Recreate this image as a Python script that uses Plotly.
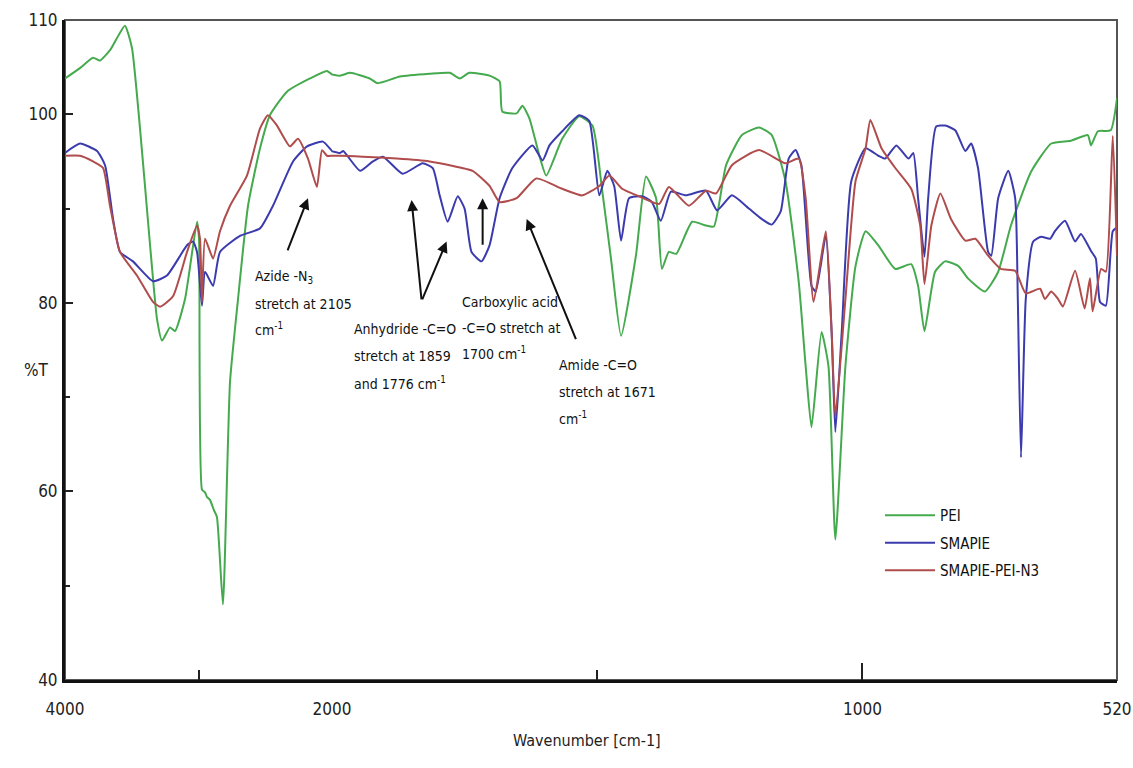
import plotly.graph_objects as go

# ---------------- data ----------------
pei_wn = [4000, 3888, 3790, 3738, 3663, 3610, 3551, 3498, 3311, 3273, 3213, 3176, 3101, 3011, 2996,
          2974, 2951, 2936, 2914, 2884, 2862, 2817, 2764, 2704, 2629, 2539, 2465, 2337, 2165, 2038,
          1985, 1966, 1929, 1914, 1872, 1816, 1778, 1759, 1741, 1703, 1684, 1679, 1652, 1641, 1628,
          1609, 1596, 1566, 1534, 1509, 1491, 1474, 1455, 1427, 1408, 1389, 1378, 1365, 1351, 1321,
          1295, 1280, 1257, 1227, 1195, 1171, 1145, 1120, 1107, 1096, 1077, 1064, 1051, 1032, 1013,
          994, 970, 938, 908, 895, 883, 863, 844, 819, 801, 769, 744, 720, 682, 644, 607, 575, 569,
          556, 532, 520]
pei_t = [103.8, 104.9, 106.0, 105.7, 106.8, 108.1, 109.4, 107.0, 78.3, 76.0, 77.4, 77.0, 80.4, 88.6, 86.8,
         60.2, 59.9, 59.4, 59.1, 58.0, 57.3, 48.0, 71.6, 80.4, 90.3, 96.4, 99.9, 102.4, 103.8, 104.6,
         104.1, 104.4, 103.8, 103.3, 104.0, 104.3, 104.4, 103.8, 104.4, 104.1, 103.5, 100.3, 100.1, 100.9, 99.6,
         95.6, 93.5, 97.4, 99.8, 98.8, 92.1, 84.7, 76.5, 85.0, 93.4, 91.1, 83.6, 85.4, 85.2, 88.6,
         88.2, 88.1, 94.6, 97.8, 98.6, 97.8, 92.9, 82.2, 73.3, 66.8, 76.9, 73.3, 54.9, 73.3, 83.9,
         87.6, 86.1, 83.6, 84.1, 81.8, 77.0, 83.3, 84.4, 83.9, 82.6, 81.2, 83.3, 88.2, 93.9, 96.9, 97.2, 97.8, 96.7,
         98.2, 98.3, 101.7]

smapie_wn = [4000, 3888, 3760, 3700, 3640, 3588, 3491, 3341, 3236, 3086, 3041, 3011, 2974, 2951, 2891,
             2839, 2689, 2539, 2442, 2292, 2187, 2068, 1985, 1979, 1947, 1923, 1904, 1867, 1829, 1810,
             1797, 1782, 1763, 1750, 1737, 1718, 1703, 1684, 1660, 1622, 1603, 1590, 1566, 1534, 1515,
             1496, 1481, 1468, 1455, 1440, 1415, 1397, 1380, 1361, 1333, 1295, 1274, 1246, 1214, 1190,
             1171, 1154, 1139, 1126, 1115, 1096, 1088, 1069, 1058, 1051, 1039, 1021, 994, 970, 957,
             936, 913, 904, 895, 883, 876, 861, 844, 825, 806, 795, 782, 763, 757, 744, 725, 712, 707,
             701, 692, 678, 663, 646, 637, 618, 599, 588, 569, 560, 552, 541, 528, 520]
smapie_t = [95.9, 96.9, 96.1, 94.6, 88.9, 85.4, 84.4, 82.3, 82.9, 86.1, 86.5, 85.4, 79.7, 83.3, 81.8,
            85.4, 87.1, 87.9, 90.3, 95.0, 96.6, 97.1, 95.9, 96.1, 94.0, 95.0, 95.5, 93.7, 94.8, 94.3,
            91.4, 88.6, 91.3, 90.0, 85.4, 84.4, 86.1, 91.1, 94.3, 96.7, 95.1, 96.7, 98.2, 99.9, 99.3,
            91.4, 94.0, 92.4, 86.6, 91.1, 91.3, 90.7, 88.7, 91.8, 91.4, 91.9, 89.8, 91.4, 90.0, 88.9,
            88.3, 89.7, 95.3, 96.2, 94.6, 81.8, 81.2, 87.1, 76.9, 66.3, 76.9, 92.9, 96.4, 95.6, 95.3,
            96.7, 95.3, 95.9, 91.1, 84.9, 91.1, 98.7, 98.8, 98.3, 96.1, 96.9, 94.3, 85.4, 85.0, 91.1, 94.0, 91.1, 80.4,
            63.6, 80.4, 86.5, 87.0, 86.8, 87.6, 88.7, 86.5, 87.3, 85.5, 84.7, 80.1, 79.7, 87.6, 88.0]

n3_wn = [4000, 3888, 3790, 3715, 3663, 3588, 3461, 3341, 3288, 3191, 3086, 3011, 2989, 2974, 2951,
         2891, 2839, 2764, 2637, 2539, 2480, 2412, 2315, 2255, 2180, 2113, 2075, 2038, 1985, 1942,
         1878, 1816, 1778, 1735, 1703, 1684, 1652, 1615, 1566, 1528, 1496, 1477, 1453, 1421, 1383,
         1365, 1327, 1295, 1276, 1246, 1195, 1145, 1120, 1107, 1092, 1069, 1058, 1051, 1032, 1013,
         994, 985, 964, 938, 908, 891, 883, 870, 853, 833, 806, 787, 763, 739, 712, 692, 665, 656,
         644, 631, 622, 599, 581, 571, 566, 550, 541, 528, 520]
n3_t = [95.6, 95.6, 95.0, 94.3, 90.3, 85.4, 82.9, 80.1, 79.6, 80.7, 85.4, 88.2, 86.8, 80.1, 86.8,
        84.7, 87.6, 90.3, 93.5, 98.5, 99.9, 98.8, 96.6, 97.4, 95.3, 92.3, 96.2, 95.6, 95.6, 95.5,
        95.3, 95.0, 94.6, 94.0, 92.4, 90.7, 91.1, 93.2, 92.1, 91.4, 92.4, 93.5, 92.1, 91.3, 90.5,
        92.3, 90.3, 91.9, 91.6, 94.6, 96.2, 94.8, 95.3, 91.1, 80.1, 87.6, 76.9, 68.0, 80.4, 92.9,
        96.4, 99.4, 96.4, 94.3, 92.1, 88.2, 82.0, 88.2, 91.6, 88.9, 86.6, 86.8, 85.0, 83.6, 83.4, 81.0, 81.5, 80.4,
        81.2, 80.4, 79.6, 83.4, 79.4, 82.6, 79.1, 83.6, 83.3, 97.7, 85.0]

series_names = ["PEI", "SMAPIE", "SMAPIE-PEI-N3"]
series_colors = ["#45aa4e", "#3b3bae", "#b04c4c"]

x_major_left = [4000, 2000]
x_minor_left = [3000]
x_major_right = [1000, 520]
x_minor_right = [1500]
y_major = [40, 60, 80, 100, 110]
y_minor = [50, 70, 90]

# ---------------- figure ----------------
W, H = 1133, 768
ML, MR, MT, MB = 65, 16, 20, 88
PW, PH = W - ML - MR, H - MT - MB


def px_x(px):
    return (px - ML) / PW


def px_y(py):
    return (H - MB - py) / PH


SPLIT = px_x(332)

FONT = "Liberation Sans Narrow, Arial Narrow, DejaVu Sans Condensed, Roboto, sans-serif"

fig = go.Figure()
data = [(pei_wn, pei_t), (smapie_wn, smapie_t), (n3_wn, n3_t)]
for (wn, t), name, col in zip(data, series_names, series_colors):
    for xa, show in (("x", True), ("x2", False)):
        fig.add_trace(go.Scatter(x=wn, y=t, mode="lines", name=name, legendgroup=name,
                                 showlegend=show, xaxis=xa, yaxis="y",
                                 line=dict(color=col, width=2, shape="spline", smoothing=0.5)))

axis_common = dict(showgrid=False, zeroline=False, showline=True, linecolor="#111", linewidth=3,
                   ticks="inside", tickcolor="#222", tickwidth=1.5, ticklen=17,
                   tickfont=dict(family=FONT, size=17, color="#222"), ticklabelstandoff=12,
                   anchor="y", tickmode="array", automargin=False)

fig.update_layout(
    width=W, height=H, autosize=False,
    margin=dict(l=ML, r=MR, t=MT, b=MB, autoexpand=False),
    paper_bgcolor="white", plot_bgcolor="white",
    xaxis=dict(domain=[0, SPLIT], range=[4000, 2000], tickvals=x_major_left,
               ticktext=[str(v) for v in x_major_left],
               minor=dict(tickmode="array", tickvals=x_minor_left, ticks="inside", ticklen=10,
                          tickcolor="#222", tickwidth=1.5),
               **axis_common),
    xaxis2=dict(domain=[SPLIT, 1], range=[2000, 520], tickvals=x_major_right,
                ticktext=[str(v) for v in x_major_right],
                minor=dict(tickmode="array", tickvals=x_minor_right, ticks="inside", ticklen=10,
                           tickcolor="#222", tickwidth=1.5),
                **axis_common),
    yaxis=dict(domain=[0, 1], range=[40, 110], anchor="x", showgrid=False, zeroline=False,
               showline=True, linecolor="#111", linewidth=3, ticks="inside", tickcolor="#222",
               tickwidth=2, ticklen=8, tickmode="array", tickvals=y_major,
               ticktext=[str(v) for v in y_major], automargin=False,
               minor=dict(tickmode="array", tickvals=y_minor, ticks="inside", ticklen=5,
                          tickcolor="#222", tickwidth=1.5),
               tickfont=dict(family=FONT, size=17, color="#222"), ticklabelstandoff=1),
    legend=dict(x=px_x(880), y=px_y(499), xanchor="left", yanchor="top",
                bgcolor="rgba(0,0,0,0)", borderwidth=0, traceorder="grouped",
                tracegroupgap=5, itemwidth=50,
                font=dict(family=FONT, size=15, color="#111")),
    showlegend=True,
)

# frame (top / right)
fig.add_shape(type="rect", xref="paper", yref="paper", x0=0, x1=1, y0=0, y1=1,
              line=dict(color="#555", width=2), layer="below")

annotations = []
# axis titles
annotations.append(dict(xref="paper", yref="paper", x=px_x(587), y=px_y(752),
                        text="Wavenumber [cm-1]", showarrow=False,
                        font=dict(family=FONT, size=16, color="#222")))
annotations.append(dict(xref="paper", yref="paper", x=px_x(22), y=px_y(370),
                        text="%T", showarrow=False,
                        font=dict(family=FONT, size=17, color="#222")))

# label text blocks
label_font = dict(family=FONT, size=14, color="#111")
blocks = [
    (253, [277, 304, 329], ["Azide -N<sub>3</sub>", "stretch at 2105", "cm<sup>-1</sup>"]),
    (352, [329, 356, 383], ["Anhydride -C=O", "stretch at 1859", "and 1776 cm<sup>-1</sup>"]),
    (460, [302, 328, 353], ["Carboxylic acid", "-C=O stretch at", "1700 cm<sup>-1</sup>"]),
    (557, [365, 392, 418], ["Amide -C=O", "stretch at 1671", "cm<sup>-1</sup>"]),
]
for left, ys, lines in blocks:
    for yy, txt in zip(ys, lines):
        annotations.append(dict(xref="paper", yref="paper", x=px_x(left), y=px_y(yy),
                                xanchor="left", yanchor="middle", text=txt, showarrow=False,
                                font=label_font))

# arrows (tip, tail) in data coordinates
arrows = [
    ("x", 2180, 91.1, 2337, 85.4),
    ("x2", 1850, 90.9, 1831, 80.2),
    ("x2", 1784, 86.5, 1831, 80.2),
    ("x2", 1716, 91.1, 1716, 86.0),
    ("x2", 1633, 88.9, 1539, 76.0),
]
for xr, x, y, ax, ay in arrows:
    annotations.append(dict(xref=xr, yref="y", x=x, y=y, axref=xr, ayref="y", ax=ax, ay=ay,
                            text="", showarrow=True, arrowhead=2, arrowsize=1.1,
                            arrowwidth=2, arrowcolor="#111"))

fig.update_layout(annotations=annotations)

fig.write_html("out.html", config={"responsive": False, "displayModeBar": False},
               post_script="document.body.style.margin='0';document.body.style.overflow='hidden';")
